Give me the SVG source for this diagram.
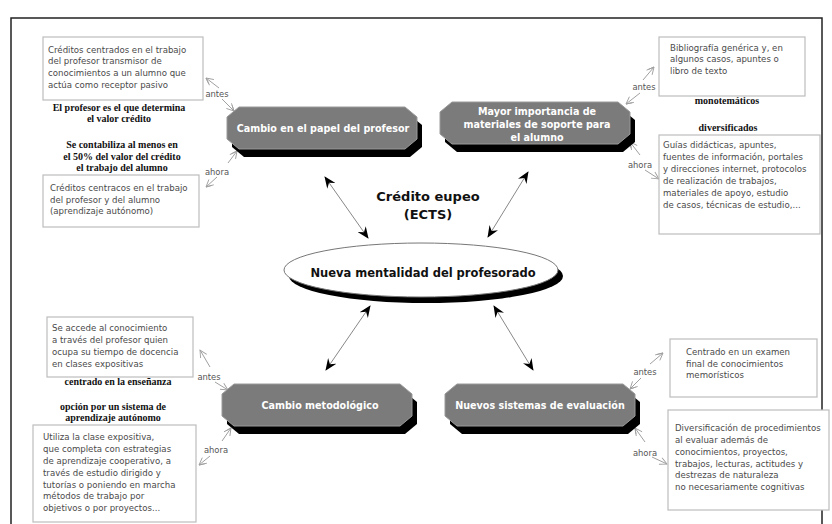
<svg xmlns="http://www.w3.org/2000/svg" width="832" height="524" viewBox="0 0 832 524">
<style>
.box{fill:#fff;stroke:#bdbdbd;stroke-width:1.2}
.bt{font-family:"DejaVu Sans",Verdana,sans-serif;font-size:8.6px;fill:#4a4a4a}
.lab{font-family:"Liberation Serif",serif;font-weight:bold;font-size:10px;fill:#111;text-anchor:middle}
.sm{font-family:"DejaVu Sans",Verdana,sans-serif;font-size:8.4px;fill:#555;text-anchor:middle}
.oct{fill:#7b7b7b;stroke:#9a9a9a;stroke-width:1}
.sh{fill:#000}
.ot{font-family:"DejaVu Sans",Verdana,sans-serif;font-weight:bold;font-size:9.6px;fill:#fff;text-anchor:middle}
.big{font-family:"DejaVu Sans",Verdana,sans-serif;font-weight:bold;font-size:13px;fill:#111;text-anchor:middle}
.thin{stroke:#a0a0a0;stroke-width:1;fill:none;marker-end:url(#open)}
.main{stroke:#888;stroke-width:1;fill:none;marker-start:url(#barbS);marker-end:url(#barb)}
</style>
<defs>
<path id="octp" d="M12,0 H178 L190,10 V32 L178,42 H12 L0,32 V10 Z"/>
<marker id="open" viewBox="0 0 10 10" refX="9" refY="5" markerWidth="9" markerHeight="9" orient="auto" markerUnits="userSpaceOnUse">
<path d="M1,1 L9,5 L1,9 M3,2 L9,5" fill="none" stroke="#a0a0a0" stroke-width="1"/>
</marker>
<marker id="barb" viewBox="0 0 12 10" refX="11" refY="5" markerWidth="12" markerHeight="10" orient="auto" markerUnits="userSpaceOnUse">
<path d="M0,0 L12,5 L0,10 L4,5 Z" fill="#000"/>
</marker>
<marker id="barbS" viewBox="0 0 12 10" refX="1" refY="5" markerWidth="12" markerHeight="10" orient="auto" markerUnits="userSpaceOnUse">
<path d="M12,0 L0,5 L12,10 L8,5 Z" fill="#000"/>
</marker>
</defs>
<rect x="0" y="0" width="832" height="524" fill="#fff"/>
<rect x="11" y="18" width="811" height="510" fill="none" stroke="#222" stroke-width="1.5"/>

<g id="connectors">
<line class="main" x1="325" y1="177" x2="368" y2="238"/>
<line class="main" x1="528" y1="172" x2="488" y2="237"/>
<line class="main" x1="370" y1="306" x2="326" y2="370"/>
<line class="main" x1="494" y1="306" x2="533" y2="370"/>
<line class="thin" x1="219" y1="88" x2="206" y2="78"/>
<line class="thin" x1="222" y1="99" x2="234" y2="111"/>
<line class="thin" x1="228" y1="163" x2="237" y2="151"/>
<line class="thin" x1="217" y1="177" x2="206" y2="187"/>
<line class="thin" x1="643" y1="80" x2="654" y2="67"/>
<line class="thin" x1="640" y1="93" x2="626" y2="104"/>
<line class="thin" x1="640" y1="155" x2="630" y2="142"/>
<line class="thin" x1="645" y1="170" x2="659" y2="179"/>
<line class="thin" x1="210" y1="367" x2="200" y2="350"/>
<line class="thin" x1="215" y1="382" x2="228" y2="390"/>
<line class="thin" x1="222" y1="441" x2="231" y2="428"/>
<line class="thin" x1="210" y1="456" x2="199" y2="465"/>
<line class="thin" x1="650" y1="364" x2="663" y2="353"/>
<line class="thin" x1="641" y1="378" x2="630" y2="389"/>
<line class="thin" x1="645" y1="442" x2="635" y2="428"/>
<line class="thin" x1="652" y1="457" x2="667" y2="464"/>
<text class="sm" x="217" y="97">antes</text>
<text class="sm" x="217" y="175">ahora</text>
<text class="sm" x="644" y="90">antes</text>
<text class="sm" x="640" y="168">ahora</text>
<text class="sm" x="209" y="380">antes</text>
<text class="sm" x="216" y="453">ahora</text>
<text class="sm" x="645" y="375">antes</text>
<text class="sm" x="645" y="456">ahora</text>
</g>

<g id="n-ects">
<text class="big" x="428" y="201">Crédito eupeo</text>
<text class="big" x="428" y="219">(ECTS)</text>
</g>

<g id="n-center">
<ellipse cx="426" cy="276" rx="137" ry="27" fill="#000"/>
<ellipse cx="421" cy="270" rx="137" ry="27" fill="#fff" stroke="#777" stroke-width="1"/>
<text class="big" x="423" y="277" style="font-size:11.5px">Nueva mentalidad del profesorado</text>
</g>

<g id="n-profesor">
<use href="#octp" class="sh" transform="translate(232,115)"/>
<use href="#octp" class="oct" transform="translate(227,107)"/>
<text class="ot" x="323" y="132">Cambio en el papel del profesor</text>
</g>

<g id="n-materiales">
<use href="#octp" class="sh" transform="translate(445,110)"/>
<use href="#octp" class="oct" transform="translate(440,102)"/>
<text class="ot" x="537" y="115">Mayor importancia de</text>
<text class="ot" x="537" y="128">materiales de soporte para</text>
<text class="ot" x="537" y="141">el alumno</text>
</g>

<g id="n-metodo">
<use href="#octp" class="sh" transform="translate(227,392)"/>
<use href="#octp" class="oct" transform="translate(222,384)"/>
<text class="ot" x="320" y="409">Cambio metodológico</text>
</g>

<g id="n-evaluacion">
<use href="#octp" class="sh" transform="translate(450,392)"/>
<use href="#octp" class="oct" transform="translate(445,384)"/>
<text class="ot" x="540" y="409">Nuevos sistemas de evaluación</text>
</g>

<g id="n-tl1">
<rect class="box" x="43" y="37" width="160" height="63"/>
<text class="bt" x="48" y="53">Créditos centrados en el trabajo</text>
<text class="bt" x="48" y="64">del profesor transmisor de</text>
<text class="bt" x="48" y="76">conocimientos a un alumno que</text>
<text class="bt" x="48" y="88">actúa como receptor pasivo</text>
</g>
<g id="n-tl-lab1">
<text class="lab" x="119" y="111">El profesor es el que determina</text>
<text class="lab" x="119" y="122">el valor crédito</text>
</g>
<g id="n-tl-lab2">
<text class="lab" x="122" y="148">Se contabiliza al menos en</text>
<text class="lab" x="122" y="160">el 50% del valor del crédito</text>
<text class="lab" x="122" y="171">el trabajo del alumno</text>
</g>
<g id="n-tl2">
<rect class="box" x="43" y="175" width="156" height="52"/>
<text class="bt" x="50" y="191">Créditos centracos en el trabajo</text>
<text class="bt" x="50" y="203">del profesor y del alumno</text>
<text class="bt" x="50" y="214">(aprendizaje autónomo)</text>
</g>

<g id="n-tr1">
<rect class="box" x="659" y="37" width="146" height="59"/>
<text class="bt" x="670" y="51">Bibliografía genérica y, en</text>
<text class="bt" x="670" y="62">algunos casos, apuntes o</text>
<text class="bt" x="670" y="74">libro de texto</text>
</g>
<g id="n-tr-lab1"><text class="lab" x="727" y="104">monotemáticos</text></g>
<g id="n-tr-lab2"><text class="lab" x="728" y="131">diversificados</text></g>
<g id="n-tr2">
<rect class="box" x="659" y="135" width="161" height="99"/>
<text class="bt" x="663" y="148">Guías didácticas, apuntes,</text>
<text class="bt" x="663" y="160">fuentes de información, portales</text>
<text class="bt" x="663" y="172">y direcciones internet, protocolos</text>
<text class="bt" x="663" y="184">de realización de trabajos,</text>
<text class="bt" x="663" y="196">materiales de apoyo, estudio</text>
<text class="bt" x="663" y="208">de casos, técnicas de estudio,...</text>
</g>

<g id="n-bl1">
<rect class="box" x="47" y="317" width="146" height="60"/>
<text class="bt" x="52" y="331">Se accede al conocimiento</text>
<text class="bt" x="52" y="343">a través del profesor quien</text>
<text class="bt" x="52" y="355">ocupa su tiempo de docencia</text>
<text class="bt" x="52" y="367">en clases expositivas</text>
</g>
<g id="n-bl-lab1"><text class="lab" x="118" y="385">centrado en la enseñanza</text></g>
<g id="n-bl-lab2">
<text class="lab" x="113" y="410">opción por un sistema de</text>
<text class="lab" x="113" y="421">aprendizaje autónomo</text>
</g>
<g id="n-bl2">
<rect class="box" x="33" y="425" width="163" height="97"/>
<text class="bt" x="43" y="440">Utiliza la clase expositiva,</text>
<text class="bt" x="43" y="452">que completa con estrategias</text>
<text class="bt" x="43" y="464">de aprendizaje cooperativo, a</text>
<text class="bt" x="43" y="476">través de estudio dirigido y</text>
<text class="bt" x="43" y="488">tutorías o poniendo en marcha</text>
<text class="bt" x="43" y="499">métodos de trabajo por</text>
<text class="bt" x="43" y="511">objetivos o por proyectos...</text>
</g>

<g id="n-br1">
<rect class="box" x="670" y="339" width="147" height="58"/>
<text class="bt" x="686" y="355">Centrado en un examen</text>
<text class="bt" x="686" y="367">final de conocimientos</text>
<text class="bt" x="686" y="378">memorísticos</text>
</g>
<g id="n-br2">
<rect class="box" x="668" y="410" width="161" height="100"/>
<text class="bt" x="675" y="431">Diversificación de procedimientos</text>
<text class="bt" x="675" y="443">al evaluar además de</text>
<text class="bt" x="675" y="455">conocimientos, proyectos,</text>
<text class="bt" x="675" y="467">trabajos, lecturas, actitudes y</text>
<text class="bt" x="675" y="478">destrezas de naturaleza</text>
<text class="bt" x="675" y="490">no necesariamente cognitivas</text>
</g>
</svg>
